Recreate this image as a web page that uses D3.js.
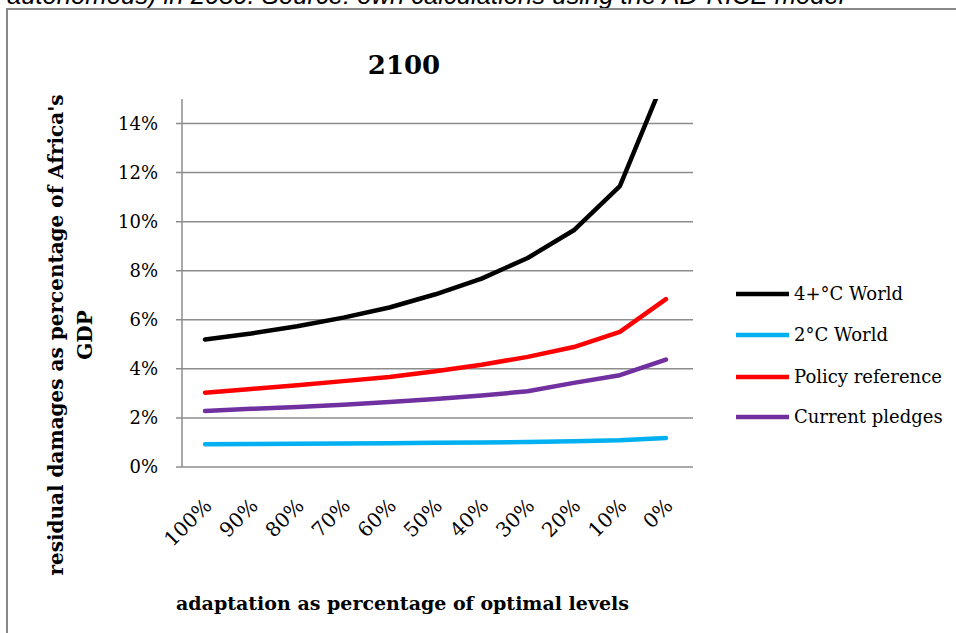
<!DOCTYPE html>
<html><head><meta charset="utf-8">
<script src="https://cdn.jsdelivr.net/npm/d3@7"></script>
<style>body{margin:0;background:#fff}svg{display:block}</style>
</head><body><svg id="c" width="956" height="633"></svg>
<script>
const categories = ["100%","90%","80%","70%","60%","50%","40%","30%","20%","10%","0%"];
const world4 = [5.20,5.44,5.74,6.09,6.50,7.04,7.68,8.52,9.65,11.45,16.0];
const world2 = [0.93,0.94,0.95,0.96,0.97,0.99,1.00,1.02,1.05,1.09,1.18];
const policyRef = [3.03,3.18,3.33,3.50,3.67,3.90,4.17,4.49,4.89,5.51,6.84];
const pledges = [2.28,2.37,2.45,2.54,2.65,2.77,2.91,3.09,3.43,3.74,4.38];
const yTicks = [0,2,4,6,8,10,12,14];
const seriesNames = ["4+°C World","2°C World","Policy reference","Current pledges"];
const seriesColors = ["#000000","#00b0f0","#ff0000","#7030a0"];
const series = [world4, world2, policyRef, pledges];

(function(){
const serif = "'DejaVu Serif', serif";
const svg = d3.select("#c");

// caption (cut off at the top of the picture)
const cap = svg.append("text").attr("x",7).attr("y",4)
  .attr("font-family","Liberation Sans, Arial, sans-serif").attr("font-style","italic")
  .attr("font-size",20).attr("fill","#000")
  .text("autonomous) in 2050. Source: own calculations using the AD-RICE model");
const cl = cap.node().getComputedTextLength();
cap.attr("font-size", 20*838/cl);

// frame
svg.append("rect").attr("x",7).attr("y",9).attr("width",960).attr("height",640)
  .attr("fill","none").attr("stroke","#888").attr("stroke-width",2);

const pL=182, pR=689, pT=99, pB=467;
const x = d3.scalePoint().domain(categories).range([pL,pR]).padding(0.5);
const y = d3.scaleLinear().domain([0,15]).range([pB,pT]);

const g = svg.append("g");
g.selectAll("line.grid").data(yTicks).join("line")
  .attr("x1",pL-6).attr("x2",pR+4).attr("y1",d=>y(d)).attr("y2",d=>y(d))
  .attr("stroke","#8c8c8c").attr("stroke-width",1.5);
g.append("line").attr("x1",pL).attr("x2",pL).attr("y1",pT).attr("y2",pB)
  .attr("stroke","#8c8c8c").attr("stroke-width",1.5);

g.selectAll("text.yt").data(yTicks).join("text")
  .attr("x",158).attr("y",d=>y(d)).attr("dy","0.35em").attr("text-anchor","end")
  .attr("font-family",serif).attr("font-size",18).attr("fill","#000")
  .text(d=>d+"%");

g.selectAll("text.xt").data(categories).join("text")
  .attr("transform",d=>`translate(${x(d)+8},${507}) rotate(-45)`)
  .attr("text-anchor","end")
  .attr("font-family",serif).attr("font-size",20).attr("fill","#000")
  .text(d=>d);

svg.append("clipPath").attr("id","plotclip").append("rect")
  .attr("x",pL-10).attr("y",pT).attr("width",pR-pL+20).attr("height",pB-pT+10);
const line = d3.line().x((d,i)=>x(categories[i])).y(d=>y(d));
const order=[1,3,2,0];
svg.append("g").attr("clip-path","url(#plotclip)")
  .selectAll("path").data(order).join("path")
  .attr("d",i=>line(series[i])).attr("fill","none")
  .attr("stroke",i=>seriesColors[i]).attr("stroke-width",4.5)
  .attr("stroke-linecap","round").attr("stroke-linejoin","round");

svg.append("text").attr("x",404).attr("y",74).attr("text-anchor","middle")
  .attr("font-family",serif).attr("font-weight","bold").attr("font-size",26).text("2100");

svg.append("text").attr("x",402.5).attr("y",610).attr("text-anchor","middle")
  .attr("font-family",serif).attr("font-weight","bold").attr("font-size",19)
  .text("adaptation as percentage of optimal levels");
const yt = svg.append("text").attr("transform","translate(0,335) rotate(-90)")
  .attr("text-anchor","middle").attr("font-family",serif).attr("font-weight","bold").attr("font-size",20);
yt.append("tspan").attr("x",0).attr("y",63).text("residual damages as percentage of Africa's");
yt.append("tspan").attr("x",0).attr("y",92).text("GDP");

const lg = svg.append("g");
const ly = [294,335,377,417];
seriesNames.forEach((n,i)=>{
  lg.append("line").attr("x1",736).attr("x2",789).attr("y1",ly[i]).attr("y2",ly[i])
    .attr("stroke",seriesColors[i]).attr("stroke-width",4.5);
  lg.append("text").attr("x",794).attr("y",ly[i]).attr("dy","0.35em")
    .attr("font-family",serif).attr("font-size",18).text(n);
});
})();
</script></body></html>
